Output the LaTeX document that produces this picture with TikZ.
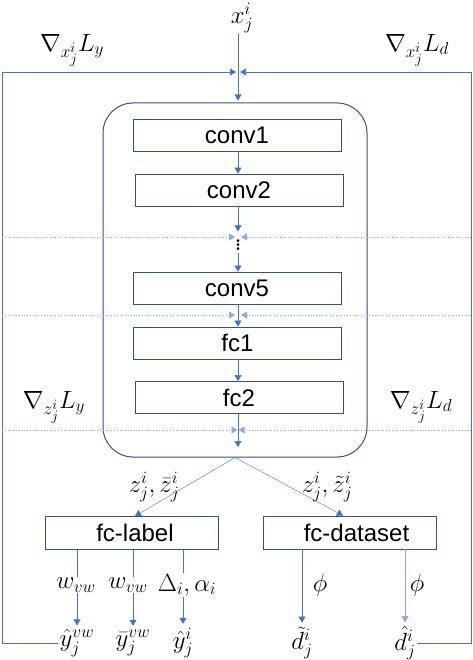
\documentclass[tikz,border=0pt]{standalone}
\usepackage{fontspec}
\setsansfont{Liberation Sans}
\usetikzlibrary{arrows.meta}
\DeclareMathSizes{23}{23}{17}{14}
\definecolor{flowblue}{RGB}{68,114,196}
\definecolor{edgeblue}{RGB}{47,82,143}
\definecolor{tapblue}{RGB}{143,170,220}

\begin{document}
\begin{tikzpicture}[x=1pt,y=-1pt,
    layer/.style={draw=edgeblue,line width=0.9pt,minimum width=208pt,minimum height=32pt,inner sep=0pt,font=\sffamily\fontsize{24}{26}\selectfont},
    head/.style={draw=edgeblue,line width=0.9pt,minimum width=173pt,minimum height=33pt,inner sep=0pt,font=\sffamily\fontsize{24}{26}\selectfont},
    lbl/.style={font=\fontsize{23}{26}\selectfont,inner sep=1pt},
    flow/.style={flowblue,line width=0.6pt,-{Triangle[width=7pt,length=6pt]}},
    back/.style={flowblue,line width=0.6pt,-{Triangle[width=7pt,length=6pt]},shorten >=2pt},
    tap/.style={tapblue,line width=0.8pt,dotted,-{Triangle[width=7pt,length=6pt]},shorten >=3pt}]
    \useasboundingbox (0,0) rectangle (472,660);
    \node[lbl] (xin) at (242,18) {$x_j^i$};
    \node[lbl] (gxly) at (72,50) {$\nabla_{x_j^i}L_y$};
    \node[lbl] (gxld) at (417,50) {$\nabla_{x_j^i}L_d$};
    \node[draw=edgeblue,line width=1pt,rounded corners=30pt,minimum width=264pt,minimum height=354pt] (net) at (235,280) {};
    \node[layer] (conv1) at (237,135) {conv1};
    \node[layer] (conv2) at (239,190) {conv2};
    \node[inner sep=0pt,font=\fontsize{34}{36}\selectfont] (dots) at (238,242) {$\vdots$};
    \node[layer] (conv5) at (237,288) {conv5};
    \node[layer] (fc1) at (237.5,343) {fc1};
    \node[layer] (fc2) at (239,397.5) {fc2};
    \node[lbl] (gzly) at (54,407) {$\nabla_{z_j^i}L_y$};
    \node[lbl] (gzld) at (421,407) {$\nabla_{z_j^i}L_d$};
    \node[head] (fclabel) at (131.5,533) {\hspace{7pt}fc-label};
    \node[head] (fcdata) at (349.5,532.5) {\hspace{14pt}fc-dataset};
    \node[lbl] (yvw) at (77,643) {$\hat{y}_j^{vw}$};
    \node[lbl] (ybar) at (133,643) {$\bar{y}_j^{vw}$};
    \node[lbl] (yi) at (183,643) {$\hat{y}_j^i$};
    \node[lbl] (dtil) at (302,643) {$\tilde{d}_j^i$};
    \node[lbl] (dhat) at (405,643) {$\hat{d}_j^i$};
    \coordinate (m0) at (238,72);
    \coordinate (m1) at (238,237);
    \coordinate (m2) at (238,315);
    \coordinate (m3) at (238,430);
    \coordinate (m4) at (238,447);
    \coordinate (lc) at (2,72);
    \coordinate (rc) at (471,72);
    \draw[flow,shorten >=2pt] (m0 |- xin.south) -- (m0 |- net.north);
    \draw[flow] (conv1.south -| m1) -- (conv2.north -| m1);
    \draw[flow,shorten >=2pt] (conv2.south -| m1) -- (dots.north);
    \draw[flow,shorten <=2pt] (dots.south) -- (conv5.north -| m1);
    \draw[flow] (conv5.south -| m2) -- (fc1.north -| m2);
    \draw[flow] (fc1.south -| m2) -- (fc2.north -| m2);
    \draw[flow] (fc2.south -| m3) -- (m4);
    \draw[flow,line width=0.4pt] (net.south) -- ([xshift=3.5pt]fclabel.north);
    \draw[flow,line width=0.4pt] (net.south) -- ([xshift=-6.5pt]fcdata.north);
    \node[lbl] (zl) at (154,487) {$z_j^i,\bar{z}_j^i$};
    \node[lbl] (zd) at (327,487) {$z_j^i,\tilde{z}_j^i$};
    \draw[flow,shorten >=3pt] (yvw.north |- fclabel.south) -- (yvw.north);
    \draw[flow,shorten >=3pt] (ybar.north |- fclabel.south) -- (ybar.north);
    \draw[flow,shorten >=3pt] (yi.north |- fclabel.south) -- (yi.north);
    \draw[flow,shorten >=3pt] (dtil.north |- fcdata.south) -- (dtil.north);
    \draw[flow,flowblue!60,shorten >=3pt] (dhat.north |- fcdata.south) -- (dhat.north);
    \node[lbl,fill=white] (wa) at (76,585) {$w_{vw}$};
    \node[lbl,fill=white] (wb) at (128,585) {$w_{vw}$};
    \node[lbl,fill=white] (da) at (187,585) {$\Delta_i,\alpha_i$};
    \node[lbl] (pa) at (320,585) {$\phi$};
    \node[lbl] (pb) at (417,585) {$\phi$};
    \draw[back] (yvw.west) -| (lc) -- (m0);
    \draw[back] (dhat.east) -| (rc) -- (m0);
    \draw[tap] (lc |- m1) -- (m1);
    \draw[tap] (rc |- m1) -- (m1);
    \draw[tap] (lc |- m2) -- (m2);
    \draw[tap] (rc |- m2) -- (m2);
    \draw[tap,shorten >=0.5pt] (lc |- m3) -- (m3);
    \draw[tap,shorten >=0.5pt] (rc |- m3) -- (m3);
\end{tikzpicture}
\end{document}
